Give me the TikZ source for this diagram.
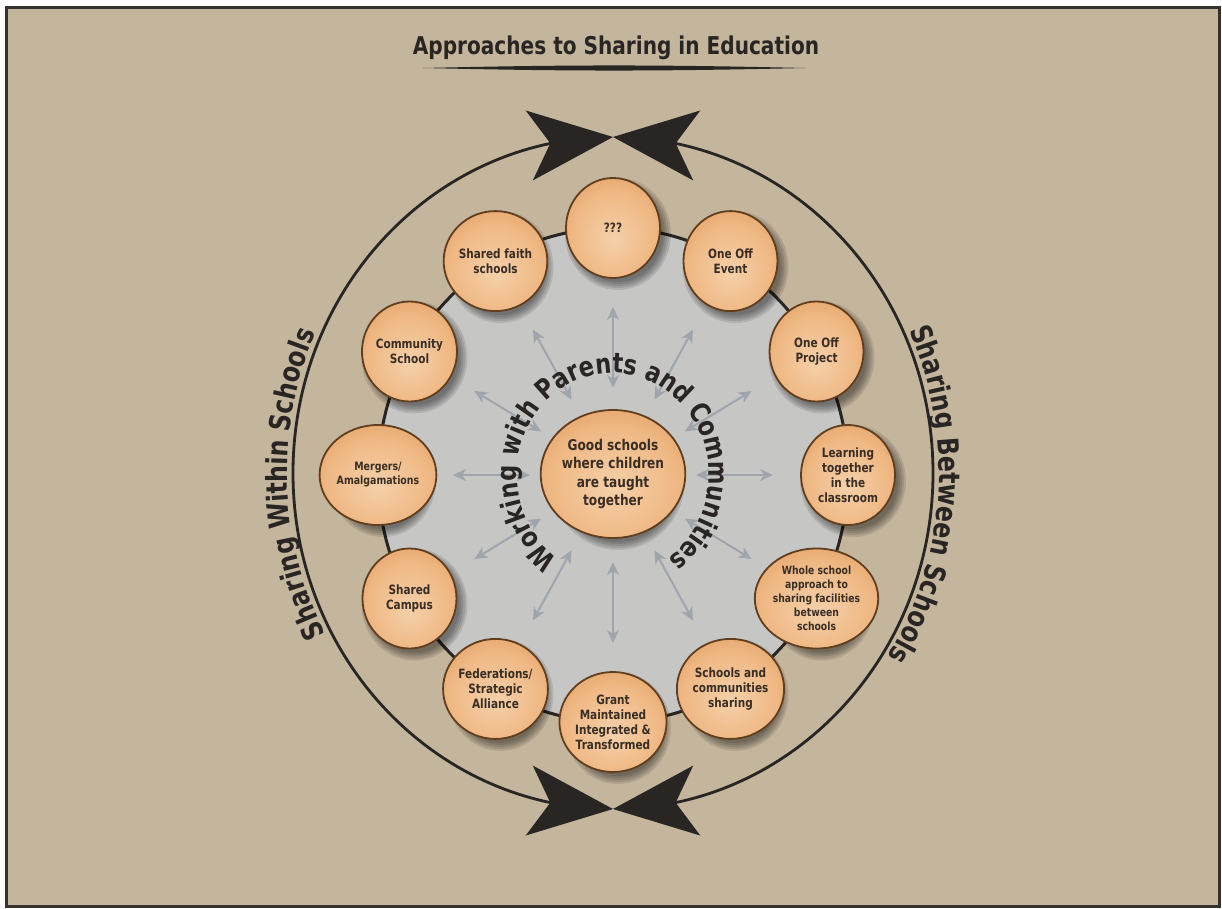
\documentclass[tikz,border=0pt]{standalone}
\usepackage{fontspec}
\setmainfont{DejaVu Sans}[FakeStretch=0.82]
\usetikzlibrary{arrows.meta,bending,decorations.text,shapes.geometric}
\definecolor{sand}{RGB}{196,181,157}
\definecolor{frameink}{RGB}{52,50,44}
\definecolor{ink}{RGB}{40,37,35}
\definecolor{disc}{RGB}{198,198,196}
\definecolor{spokegray}{RGB}{160,165,172}
\definecolor{amberlight}{RGB}{245,208,170}
\definecolor{ambermid}{RGB}{235,168,106}
\definecolor{amberdark}{RGB}{210,126,56}
\definecolor{rim}{RGB}{96,62,30}
\definecolor{beadink}{RGB}{58,46,36}
\pgfdeclareradialshading{amber}{\pgfpoint{0bp}{-6bp}}{color(0bp)=(amberlight); color(22bp)=(ambermid!60!amberlight); color(50bp)=(amberdark); color(60bp)=(amberdark)}
\tikzset{
  bead/.style={ellipse,draw=rim,line width=1.8pt,shade,shading=amber,minimum width=94pt,minimum height=100pt,inner sep=0pt,align=center,text=beadink,font=\bfseries\fontsize{12.8}{15}\selectfont},
  hub/.style={bead,minimum width=122pt,minimum height=128pt,font=\bfseries\fontsize{14.8}{18.3}\selectfont},
  spoke/.style={{Stealth[length=13pt,width=12pt,inset=4pt]}-{Stealth[length=13pt,width=12pt,inset=4pt]},line width=2pt,draw=spokegray},
  orbit/.style={line width=2.8pt,draw=ink,{Stealth[length=84pt,width=70pt,inset=21pt]}-{Stealth[length=84pt,width=70pt,inset=21pt]}},
  ring/.style={line width=3pt,draw=ink,fill=disc},
  halo/.style={fill=black,opacity=0.1},
  arclabel/.style={decorate,decoration={text along path,text align=center,text color=ink}},
}
\begin{document}
\begin{tikzpicture}[x=1pt,y=1pt]
  \useasboundingbox (-613,475) rectangle (609,-433);
  \fill[white] (-613,475) rectangle (609,-433);
  \draw[line width=3pt,draw=frameink,fill=sand] (-606,467) rectangle (606,-431);
  % heading with its swoosh
  \node[anchor=base,text=ink,font=\bfseries\fontsize{24.5}{28}\selectfont] (title) at (3,420) {Approaches to Sharing in Education};
  \coordinate (swl) at (-190,407); \coordinate (swr) at (192,407);
  \fill[ink] (swl) to[bend left=1.3] (swr) to[bend left=1.3] (swl);
  % outer loop, two halves meeting tip to tip
  \begin{scope}[shift={(0,2)}]
    \draw[orbit] (90:320 and 336) arc[start angle=90,end angle=270,x radius=320,y radius=336];
    \draw[orbit] (-90:320 and 336) arc[start angle=-90,end angle=90,x radius=320,y radius=336];
    \path[arclabel,decoration={text={|\bfseries\fontsize{29}{32}\selectfont|Sharing Within Schools}}]
      (232:326 and 342) arc[start angle=232,end angle=132,x radius=326,y radius=342];
    \path[arclabel,decoration={text={|\bfseries\fontsize{29}{32}\selectfont|Sharing Between Schools}}]
      (46:326 and 342) arc[start angle=46,end angle=-54,x radius=326,y radius=342];
  \end{scope}
  \draw[ring] (0,0) ellipse[x radius=235,y radius=247];
  \foreach \a in {0,30,...,330}
    \draw[spoke] (\a:83 and 87) -- (\a:160 and 168);
  \foreach \a in {0,30,...,330}
    \foreach \s in {0,2,4,6,8}
      \fill[halo] ([shift={(5,-6)}]\a:235 and 247) ellipse[x radius=45+\s,y radius=48+\s];
  \foreach \s in {0,2,4,6,8}
    \fill[halo] (5,-5) ellipse[x radius=59+\s,y radius=62+\s];
  % the twelve approaches
  \node[bead] (query) at (90:235 and 247) {???};
  \node[bead] (event) at (60:235 and 247) {One Off\\Event};
  \node[bead] (project) at (30:235 and 247) {One Off\\Project};
  \node[bead] (learning) at (0:235 and 247) {Learning\\together\\in the\\classroom};
  \node[bead,font=\bfseries\fontsize{11.3}{14}\selectfont] (whole) at (-30:235 and 247) {Whole school\\approach to\\sharing facilities\\between\\schools};
  \node[bead] (sharing) at (-60:235 and 247) {Schools and\\communities\\sharing};
  \node[bead] (grant) at (-90:235 and 247) {Grant\\Maintained\\Integrated \&\\Transformed};
  \node[bead] (federation) at (-120:235 and 247) {Federations/\\Strategic\\Alliance};
  \node[bead] (campus) at (-150:235 and 247) {Shared\\Campus};
  \node[bead,font=\bfseries\fontsize{11.5}{14}\selectfont] (mergers) at (180:235 and 247) {Mergers/\\Amalgamations};
  \node[bead] (community) at (150:235 and 247) {Community\\School};
  \node[bead] (faith) at (120:235 and 247) {Shared faith\\schools};
  \node[hub] (core) at (0,1) {Good schools\\where children\\are taught\\together};
  \path[arclabel,decoration={text={|\bfseries\fontsize{27.5}{31}\selectfont|Working with Parents and Communities}}]
    (265:96 and 102) arc[start angle=265,end angle=-85,x radius=96,y radius=102];
\end{tikzpicture}
\end{document}
